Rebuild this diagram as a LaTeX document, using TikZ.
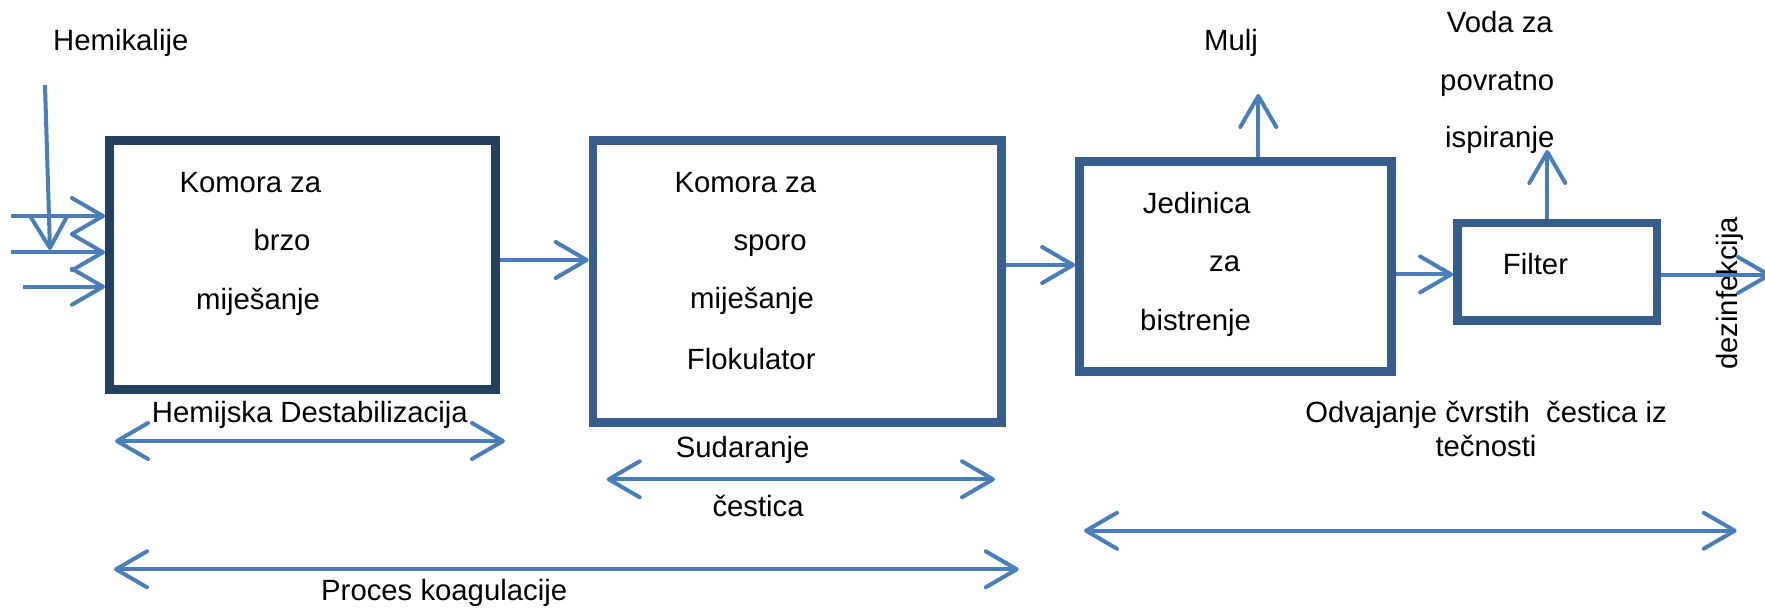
\documentclass[tikz,border=0pt]{standalone}
\usepackage{fontspec}
\setmainfont{Liberation Sans}
\usetikzlibrary{arrows.meta}
\definecolor{navy}{HTML}{243F60}
\definecolor{boxblue}{HTML}{385D8A}
\definecolor{arrblue}{HTML}{4A7EBB}
\begin{document}
\begin{tikzpicture}[x=1pt,y=-1pt,
  box/.style={draw=boxblue, line width=8.7pt, rectangle, inner sep=0pt},
  lbl/.style={anchor=base west, inner sep=0pt, font=\fontsize{29.3}{34}\selectfont},
  barb/.tip={Straight Barb[length=31pt,width=36pt,round]},
  arr/.style={draw=arrblue, line width=4pt, -barb},
  darr/.style={draw=arrblue, line width=4pt, barb-barb}]
\path[use as bounding box] (0,0) rectangle (1765,608);
\fill[white] (0,0) rectangle (1765,608);
\clip (0,0) rectangle (1765,608);
% boxes
\node[box, draw=navy, line width=9pt, minimum width=385.5pt, minimum height=249.4pt] (b1) at (302.25,265) {};
\node[box, minimum width=408.3pt, minimum height=281.9pt] (b2) at (797.2,281.2) {};
\node[box, minimum width=312.2pt, minimum height=210.3pt] (b3) at (1235.6,266.4) {};
\node[box, minimum width=199.5pt, minimum height=97.3pt] (b4) at (1557.2,271.7) {};
% texts
\node[lbl] (t1a) at (179.3,192.7) {Komora za};
\node[lbl] (t1b) at (253.3,250) {brzo};
\node[lbl] (t1c) at (196,309.3) {miješanje};
\node[lbl] (t2a) at (674.3,192.3) {Komora za};
\node[lbl] (t2b) at (733.3,250) {sporo};
\node[lbl] (t2c) at (690,308.3) {miješanje};
\node[lbl] (t2d) at (686.7,369.3) {Flokulator};
\node[lbl] (t3a) at (1142.7,213.3) {Jedinica};
\node[lbl] (t3b) at (1209,271.7) {za};
\node[lbl] (t3c) at (1140,330) {bistrenje};
\node[lbl] (t4) at (1502.7,274) {Filter};
\node[lbl] (hem) at (53,50) {Hemikalije};
\node[lbl] (mulj) at (1204,50) {Mulj};
\node[lbl] (voda1) at (1446.7,32.5) {Voda za};
\node[lbl] (voda2) at (1440,90.5) {povratno};
\node[lbl] (voda3) at (1445,147.5) {ispiranje};
\node[lbl, rotate=90] (dez) at (1737,370) {dezinfekcija};
\node[lbl] (hd) at (151.7,422.7) {Hemijska Destabilizacija};
\node[lbl] (sud) at (675.7,457.7) {Sudaranje};
\node[lbl] (ces) at (712.3,516) {čestica};
\node[lbl] (pk) at (321,600) {Proces koagulacije};
\node[lbl, anchor=base] (odv1) at (1486,422.7) {Odvajanje čvrstih\ \ čestica iz};
\node[lbl, anchor=base] (odv2) at (1486,456.7) {tečnosti};
% input arrows
\coordinate (in1) at (11,216);
\coordinate (in2) at (11,252.3);
\coordinate (in3) at (22.7,286.7);
\draw[arr] (in1) -- (in1 -| b1.west);
\draw[arr] (in2) -- (in2 -| b1.west);
\draw[arr] (in3) -- (in3 -| b1.west);
\coordinate (h0) at (45,85);
\coordinate (h1) at (50,250);
\draw[arr] (h0) -- (h1);
% flow arrows
\draw[arr] ([yshift=5pt]b1.east) -- ([yshift=5pt]b1.east -| b2.west);
\draw[arr] ([yshift=16.2pt]b2.east) -- ([yshift=16.2pt]b2.east -| b3.west);
\draw[arr] ([yshift=-8pt]b3.east) -- ([yshift=-8pt]b3.east -| b4.west);
\coordinate (outtip) at (1771,275);
\draw[arr] (b4.east |- outtip) -- (outtip);
\coordinate (mtip) at (1258.3,94);
\draw[arr] (mtip |- b3.north) -- (mtip);
\coordinate (ftip) at (1547.3,150);
\draw[arr] (ftip |- b4.north) -- (ftip);
% span arrows
\coordinate (d1l) at (115,441);
\coordinate (d1r) at (505,441);
\coordinate (d2l) at (606.7,479.3);
\coordinate (d2r) at (995,479.3);
\coordinate (d3l) at (114,569.3);
\coordinate (d3r) at (1018.7,569.3);
\coordinate (d4l) at (1084,530.7);
\coordinate (d4r) at (1736.7,530.7);
\draw[darr] (d1l) -- (d1r);
\draw[darr] (d2l) -- (d2r);
\draw[darr] (d3l) -- (d3r);
\draw[darr] (d4l) -- (d4r);
\end{tikzpicture}
\end{document}
